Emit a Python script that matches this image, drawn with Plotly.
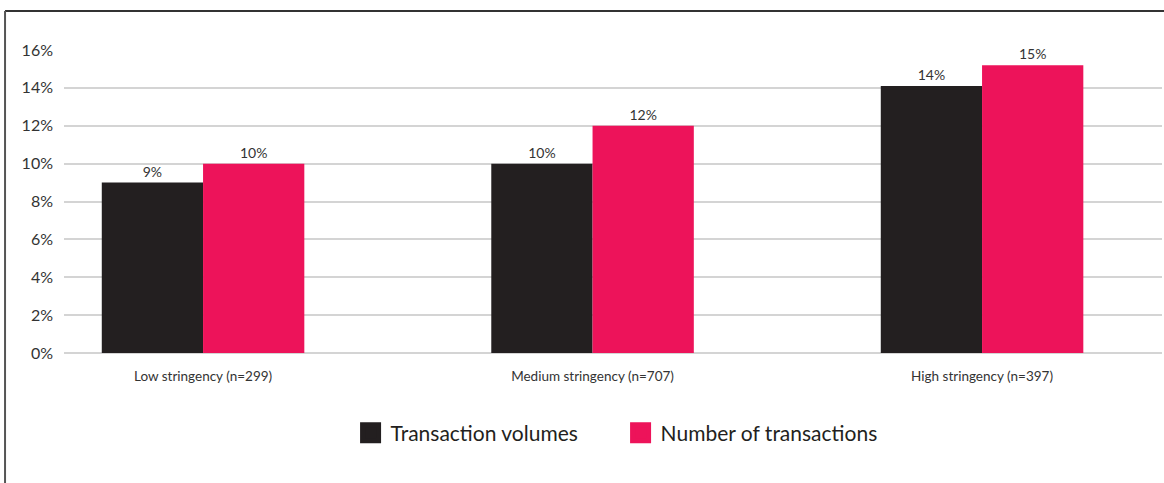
import plotly.graph_objects as go

categories = ["Low stringency (n=299)", "Medium stringency (n=707)", "High stringency (n=397)"]
transaction_volumes = [9.0, 10.0, 14.1]
number_of_transactions = [10.0, 12.0, 15.2]
series_names = ["Transaction volumes", "Number of transactions"]
tick_vals = [0, 2, 4, 6, 8, 10, 12, 14, 16]
tick_text = [f"{v}%" for v in tick_vals]

BLACK = "#231F20"
PINK = "#ED135A"
FONT = "Lato, 'Noto Sans', sans-serif"

fig = go.Figure()
for name, vals, col in [(series_names[0], transaction_volumes, BLACK),
                        (series_names[1], number_of_transactions, PINK)]:
    fig.add_trace(go.Bar(
        x=categories, y=vals, name=name, marker=dict(color=col, line=dict(width=0)),
        text=[f"{round(v)}%" for v in vals], textposition="outside",
        textfont=dict(size=14, color="#333333", family=FONT),
        cliponaxis=False, showlegend=False,
    ))
    # legend proxies
    fig.add_trace(go.Scatter(
        x=[None], y=[None], mode="markers", name=name,
        marker=dict(symbol="square", size=16, color=col, line=dict(color=col, width=5)),
        showlegend=True,
    ))

fig.update_layout(
    width=1164, height=483,
    margin=dict(l=64, r=2, t=50, b=130),
    paper_bgcolor="white", plot_bgcolor="white",
    barmode="group", bargap=0.48, bargroupgap=0,
    font=dict(family=FONT, color="#333333"),
    showlegend=True,
    legend=dict(orientation="h", x=0.5069, xanchor="center", y=-0.264, yanchor="middle",
                font=dict(size=21, color="#231F20"), itemsizing="trace",
                traceorder="normal", itemwidth=30,
                entrywidth=225, entrywidthmode="pixels"),
    xaxis=dict(type="category", range=[-0.357, 2.462], showgrid=False, showline=False,
               zeroline=False, ticks="", tickfont=dict(size=13.5, color="#333333"),
               ticklabelstandoff=13),
    yaxis=dict(range=[0, 16], tickvals=tick_vals, ticktext=tick_text,
               showgrid=True, gridcolor="#D4D4D4", gridwidth=1.5,
               zeroline=True, zerolinecolor="#D4D4D4", zerolinewidth=1.5,
               showline=False, ticks="", tickfont=dict(size=16, color="#333333"),
               ticklabelstandoff=10),
)

# frame lines (top and left) of the original figure box
fig.add_shape(type="line", xref="paper", yref="paper", x0=-0.0537, x1=1.01, y0=1.129, y1=1.129,
              line=dict(color="#333333", width=2))
fig.add_shape(type="line", xref="paper", yref="paper", x0=-0.0537, x1=-0.0537, y0=1.129, y1=-0.45,
              line=dict(color="#555555", width=2))

fig.write_html("out.html", config={"displayModeBar": False},
               post_script="document.body.style.margin='0';")
